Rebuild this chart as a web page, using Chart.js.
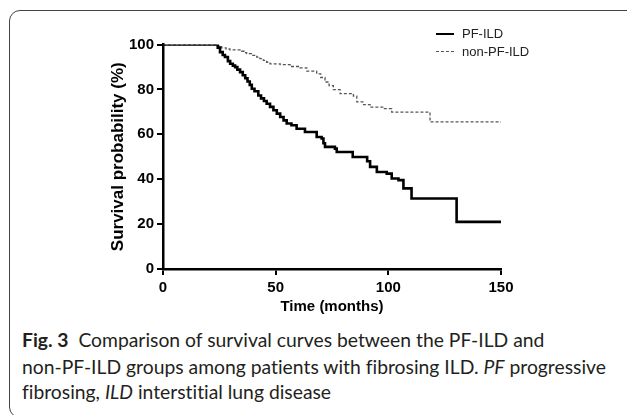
<!DOCTYPE html>
<html>
<head>
<meta charset="utf-8">
<script src="https://cdn.jsdelivr.net/npm/chart.js@4/dist/chart.umd.min.js"></script>
<style>
  html, body { margin: 0; padding: 0; background: #fff; width: 627px; height: 415px; overflow: hidden; }
  #frame { position: absolute; left: 9px; top: 10px; width: 640px; height: 408px; border: 1.5px solid #444; border-radius: 11px; box-sizing: border-box; }
  #chartWrap { position: absolute; left: 0; top: 0; width: 627px; height: 316px; }
  .leg { position: absolute; font-family: "Liberation Sans", Arial, sans-serif; font-size: 13px; color: #222; line-height: 16px; white-space: nowrap; }
  .legline { position: absolute; width: 18px; height: 0; }
  .cap { position: absolute; left: 22px; font-family: Lato, "Open Sans", sans-serif; color: #231f20; white-space: nowrap; line-height: 26px; font-variant-ligatures: none; font-feature-settings: "liga" 0, "dlig" 0; }
  .cap b { font-weight: 700; }
</style>
</head>
<body>
<div id="frame"></div>
<div id="chartWrap"><canvas id="c" width="627" height="316"></canvas></div>
<div id="legend"></div>
<div class="cap" id="cap1" style="top:327px"><b>Fig. 3</b>&nbsp; Comparison of survival curves between the PF-ILD and</div>
<div class="cap" id="cap2" style="top:354px">non-PF-ILD groups among patients with fibrosing ILD. <i>PF</i> progressive</div>
<div class="cap" id="cap3" style="top:379px">fibrosing, <i>ILD</i> interstitial lung disease</div>
<script>
// ---- data ----
const seriesNames = ["PF-ILD", "non-PF-ILD"];
const pfTimes = [0, 24.3, 25.3, 26.5, 27.5, 28.8, 29.8, 31, 32, 33, 34.2, 35.4, 36.5, 37.5, 38.5, 39.4, 40.6, 42.3, 43.5, 44.8, 46, 47.5, 49, 50.5, 52, 53.5, 54.9, 57, 59.3, 63, 68.2, 70.4, 71.2, 71.9, 76.3, 77.1, 84.2, 90.6, 91.9, 94.9, 99.3, 101.5, 104.5, 106.7, 110.3, 130.3, 150];
const pfSurvival = [100, 98.6, 96.6, 95.3, 94.4, 92.6, 91.4, 90.6, 89.9, 88.8, 87.7, 86.3, 85, 83.5, 82, 80.3, 79.2, 77.3, 76, 74.8, 73.6, 72.2, 70.7, 69.2, 67.7, 66.2, 64.8, 64, 62.5, 61, 58.8, 58.1, 56, 54.4, 53.6, 52.1, 49.9, 48, 45.5, 43.2, 42.5, 40.3, 39.6, 35.9, 31.4, 21, 21];
const nonPfTimes = [0, 23.5, 26, 28, 29.7, 34.2, 36, 37.1, 39.2, 41.6, 43, 44.5, 46, 47.5, 52, 56.4, 60.8, 63.8, 68.2, 70, 71.9, 73.7, 75.6, 78.6, 84.5, 86, 89, 91.9, 97.8, 101.5, 118.5, 150];
const nonPfSurvival = [100, 99.4, 98.5, 98, 97.6, 97, 96.4, 95.9, 95.2, 94.4, 93.7, 92.9, 92.1, 91.4, 91, 90.2, 89.6, 88.1, 86.9, 85.3, 83.3, 81.7, 79.9, 78.1, 77, 74.4, 73.2, 72.1, 71.4, 69.9, 65.5, 65.5];
const xTicks = [0, 50, 100, 150];
const yTicks = [0, 20, 40, 60, 80, 100];
const xTitle = "Time (months)";
const yTitle = "Survival probability (%)";

const toPts = (ts, vs) => ts.map((t, i) => ({ x: t, y: vs[i] }));
const axisFont = "'Liberation Sans', Arial, sans-serif";

const styles = [
  { borderColor: '#000', borderWidth: 2.6, borderDash: [] },
  { borderColor: '#555', borderWidth: 1.3, borderDash: [3, 2] }
];

new Chart(document.getElementById('c'), {
  type: 'line',
  data: {
    datasets: [
      Object.assign({ label: seriesNames[0], data: toPts(pfTimes, pfSurvival) }, styles[0]),
      Object.assign({ label: seriesNames[1], data: toPts(nonPfTimes, nonPfSurvival) }, styles[1])
    ].map(d => Object.assign(d, { stepped: 'before', pointRadius: 0, fill: false, tension: 0 }))
  },
  options: {
    responsive: false,
    animation: false,
    devicePixelRatio: 1,
    layout: { padding: { top: 44.5, right: 126, left: 108, bottom: 0 } },
    plugins: { legend: { display: false }, tooltip: { enabled: false } },
    scales: {
      x: {
        type: 'linear', min: 0, max: 150,
        afterBuildTicks: s => { s.ticks = xTicks.map(v => ({ value: v })); },
        ticks: { color: '#000', font: { family: axisFont, weight: 'bold', size: 15 }, padding: 4, maxRotation: 0 },
        grid: { display: true, drawOnChartArea: false, drawTicks: true, tickLength: 6, color: '#000', lineWidth: 2 },
        border: { display: true, color: '#000', width: 2.5 },
        title: { display: true, text: xTitle, color: '#000', font: { family: axisFont, weight: 'bold', size: 15 }, padding: 0 },
        afterFit: s => { s.height = 47; s.paddingLeft = 0; s.paddingRight = 0; }
      },
      y: {
        type: 'linear', min: 0, max: 100,
        afterBuildTicks: s => { s.ticks = yTicks.map(v => ({ value: v })); },
        ticks: { color: '#000', font: { family: axisFont, weight: 'bold', size: 15 }, padding: 3 },
        grid: { display: true, drawOnChartArea: false, drawTicks: true, tickLength: 6, color: '#000', lineWidth: 2 },
        border: { display: true, color: '#000', width: 2.5 },
        title: { display: true, text: yTitle, color: '#000', font: { family: axisFont, weight: 'bold', size: 17 }, padding: 0 },
        afterFit: s => { s.width = 55; s.paddingTop = 0; s.paddingBottom = 0; }
      }
    }
  }
});

// HTML legend built from the series names / styles
const legend = document.getElementById('legend');
const legendRows = [34, 52];
seriesNames.forEach((name, i) => {
  const ln = document.createElement('div');
  ln.className = 'legline';
  ln.style.left = '436px';
  ln.style.top = (legendRows[i] - styles[i].borderWidth / 2) + 'px';
  ln.style.borderTop = styles[i].borderWidth + 'px ' + (styles[i].borderDash.length ? 'dashed ' : 'solid ') + styles[i].borderColor;
  legend.appendChild(ln);
  const tx = document.createElement('div');
  tx.className = 'leg';
  tx.style.left = '462px';
  tx.style.top = (legendRows[i] - 8) + 'px';
  tx.textContent = name;
  legend.appendChild(tx);
});

// fit caption font size to the reference line width
(function () {
  const target = 584;
  const c2 = document.getElementById('cap2');
  c2.style.fontSize = '16px';
  const w = c2.getBoundingClientRect().width;
  const size = 16 * target / w;
  document.querySelectorAll('.cap').forEach(el => el.style.fontSize = size.toFixed(2) + 'px');
})();
</script>
</body>
</html>
